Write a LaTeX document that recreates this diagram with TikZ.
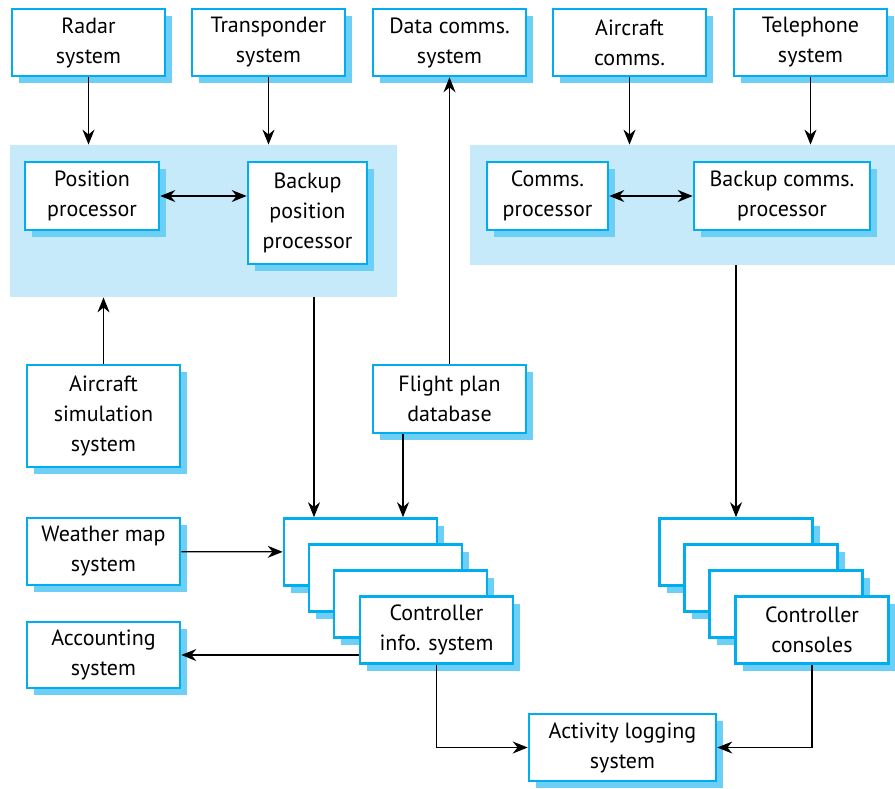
\documentclass[tikz,border=0pt]{standalone}
\usepackage{fontspec}
\setmainfont{PT Sans}
\usetikzlibrary{arrows.meta,shadows,fit,calc}
\definecolor{boxBlue}{RGB}{0,174,239}
\definecolor{shadowBlue}{RGB}{110,207,246}
\definecolor{groupBlue}{RGB}{199,234,250}

\begin{document}
\begin{tikzpicture}
[x=0.5pt,y=-0.5pt,
  boxDecorate/.style={shape=rectangle,draw=boxBlue,line width=1.3pt,fill=white,
    inner sep=0pt,align=center,font=\fontsize{11}{15}\selectfont,
    general shadow={fill=shadowBlue,draw=none,shadow xshift=3.5pt,shadow yshift=-3.5pt}},
  groupDecorate/.style={fill=groupBlue,inner sep=0pt},
  lineDecorate/.style={-{Stealth[length=7.5pt,width=6pt]},line width=0.6pt},
  bothDecorate/.style={{Stealth[length=7.5pt,width=6pt]}-{Stealth[length=7.5pt,width=6pt]},line width=0.6pt}]
\useasboundingbox (0,0) rectangle (895,788);
%% shaded groups
\node[groupDecorate,fit={(10,145) (397,297)}] (leftGroup) {};
\node[groupDecorate,fit={(470,145) (895,265)}] (rightGroup) {};
%% boxes
\foreach \name/\x/\y/\w/\h/\txt in {
  radar/88.5/42.5/153/67/{Radar\\system},
  transp/268.5/42.5/153/67/{Transponder\\system},
  datacomms/449.5/42.5/153/67/{Data comms.\\system},
  aircomms/629.5/42.5/153/67/{Aircraft\\comms.},
  phone/810.5/42.5/153/67/{Telephone\\system},
  pos/92/196/134/68/{Position\\processor},
  backpos/307.5/213/119/102/{Backup\\position\\processor},
  comms/547.5/196/121/68/{Comms.\\processor},
  backcomms/782/196/176/68/{Backup comms.\\processor},
  sim/103.5/416/153/102/{Aircraft\\simulation\\system},
  flight/449.5/399/153/68/{Flight plan\\database},
  weather/103.5/551.5/153/67/{Weather map\\system},
  account/103.5/655/153/66/{Accounting\\system},
  activity/622.5/747.5/187/67/{Activity logging\\system}}
{
  \node[boxDecorate,minimum width=\w*0.5pt,minimum height=\h*0.5pt] (\name) at (\x,\y) {\txt};
}
%% stacked boxes
\foreach \i/\x/\y/\txt in {
  1/360.5/552/{}, 2/385.5/578/{}, 3/410.5/604/{},
  4/436.5/630/{Controller\\info. system}}
{
  \node[boxDecorate,minimum width=76.5pt,minimum height=33.5pt] (info\i) at (\x,\y) {\txt};
}
\foreach \i/\x/\y/\txt in {
  1/736/552/{}, 2/761/578/{}, 3/786/604/{},
  4/812/630/{Controller\\consoles}}
{
  \node[boxDecorate,minimum width=76.5pt,minimum height=33.5pt] (cons\i) at (\x,\y) {\txt};
}
%% connectors
\coordinate (bpOut) at ($(backpos.south |- leftGroup.south)+(6.5,0)$);
\coordinate (fpOut) at ($(flight.south)+(-46.5,0)$);
\draw[lineDecorate] (radar) -- (radar |- leftGroup.north);
\draw[lineDecorate] (transp) -- (transp |- leftGroup.north);
\draw[lineDecorate] (aircomms) -- (aircomms |- rightGroup.north);
\draw[lineDecorate] (phone) -- (phone |- rightGroup.north);
\draw[bothDecorate] (pos.east) -- (pos.east -| backpos.west);
\draw[bothDecorate] (comms) -- (backcomms);
\draw[lineDecorate] (sim) -- (sim |- leftGroup.south);
\draw[lineDecorate] (flight) -- (datacomms);
\draw[lineDecorate] (bpOut) -- (bpOut |- info1.north);
\draw[lineDecorate] (fpOut) -- (fpOut |- info1.north);
\draw[lineDecorate] (cons1 |- rightGroup.south) -- (cons1.north);
\draw[lineDecorate] (weather) -- (info1);
\draw[lineDecorate] (account -| info4.west) -- (account.east);
\draw[lineDecorate] (info4.south) |- (activity.west);
\draw[lineDecorate] (cons4.south) |- (activity.east);
\end{tikzpicture}
\end{document}
